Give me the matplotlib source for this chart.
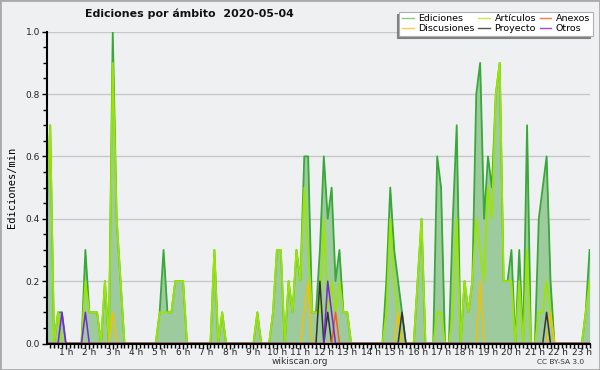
import numpy as np
import matplotlib
matplotlib.use("Agg")
import matplotlib.pyplot as plt
from matplotlib.lines import Line2D
from matplotlib.patches import Rectangle

# 10-minute bins, 6 per hour (values in edits per minute), bins 0..140
ediciones = [
    0.3, 0.4, 0.7, 0.0, 0.1, 0.1,   # 0 h
    0.0, 0.0, 0.0, 0.0, 0.0, 0.3,   # 1 h
    0.1, 0.1, 0.1, 0.0, 0.2, 0.0,   # 2 h
    1.0, 0.4, 0.2, 0.0, 0.0, 0.0,   # 3 h
    0.0, 0.0, 0.0, 0.0, 0.0, 0.0,   # 4 h
    0.1, 0.3, 0.1, 0.1, 0.2, 0.2,   # 5 h
    0.2, 0.0, 0.0, 0.0, 0.0, 0.0,   # 6 h
    0.0, 0.0, 0.3, 0.0, 0.1, 0.0,   # 7 h
    0.0, 0.0, 0.0, 0.0, 0.0, 0.0,   # 8 h
    0.0, 0.1, 0.0, 0.0, 0.0, 0.1,   # 9 h
    0.3, 0.3, 0.0, 0.2, 0.1, 0.3,   # 10 h
    0.2, 0.6, 0.6, 0.1, 0.1, 0.3,   # 11 h
    0.6, 0.4, 0.5, 0.2, 0.3, 0.1,   # 12 h
    0.1, 0.0, 0.0, 0.0, 0.0, 0.0,   # 13 h
    0.0, 0.0, 0.0, 0.0, 0.2, 0.5,   # 14 h
    0.3, 0.2, 0.1, 0.0, 0.0, 0.0,   # 15 h
    0.2, 0.4, 0.0, 0.0, 0.0, 0.6,   # 16 h
    0.5, 0.0, 0.0, 0.4, 0.7, 0.0,   # 17 h
    0.2, 0.1, 0.2, 0.8, 0.9, 0.4,   # 18 h
    0.6, 0.5, 0.8, 0.9, 0.2, 0.2,   # 19 h
    0.3, 0.0, 0.3, 0.0, 0.7, 0.0,   # 20 h
    0.0, 0.4, 0.5, 0.6, 0.2, 0.0,   # 21 h
    0.0, 0.0, 0.0, 0.0, 0.0, 0.0,   # 22 h
    0.0, 0.1, 0.3,                  # 23 h
]

articulos = [
    0.3, 0.4, 0.7, 0.0, 0.1, 0.0,
    0.0, 0.0, 0.0, 0.0, 0.0, 0.2,
    0.1, 0.1, 0.1, 0.0, 0.2, 0.0,
    0.9, 0.4, 0.2, 0.0, 0.0, 0.0,
    0.0, 0.0, 0.0, 0.0, 0.0, 0.0,
    0.1, 0.1, 0.1, 0.1, 0.2, 0.2,
    0.2, 0.0, 0.0, 0.0, 0.0, 0.0,
    0.0, 0.0, 0.3, 0.0, 0.1, 0.0,
    0.0, 0.0, 0.0, 0.0, 0.0, 0.0,
    0.0, 0.1, 0.0, 0.0, 0.0, 0.1,
    0.3, 0.3, 0.0, 0.2, 0.1, 0.3,
    0.2, 0.5, 0.3, 0.1, 0.1, 0.1,
    0.4, 0.1, 0.2, 0.1, 0.2, 0.1,
    0.1, 0.0, 0.0, 0.0, 0.0, 0.0,
    0.0, 0.0, 0.0, 0.0, 0.1, 0.4,
    0.2, 0.1, 0.0, 0.0, 0.0, 0.0,
    0.2, 0.4, 0.0, 0.0, 0.0, 0.1,
    0.1, 0.0, 0.0, 0.1, 0.4, 0.0,
    0.2, 0.1, 0.2, 0.4, 0.3, 0.2,
    0.5, 0.4, 0.8, 0.9, 0.2, 0.2,
    0.2, 0.0, 0.2, 0.0, 0.3, 0.0,
    0.0, 0.1, 0.1, 0.2, 0.1, 0.0,
    0.0, 0.0, 0.0, 0.0, 0.0, 0.0,
    0.0, 0.1, 0.2,
]

# sparse namespaces: bin index -> value
discusiones_bins = [18, 67, 68, 91, 112, 130]
discusiones_vals = [0.1, 0.1, 0.2, 0.1, 0.2, 0.1]
proyecto_bins = [71, 73, 92, 129]
proyecto_vals = [0.2, 0.1, 0.1, 0.1]
anexos_bins = [75]
anexos_vals = [0.1]
otros_bins = [5, 11, 73, 74]
otros_vals = [0.1, 0.1, 0.2, 0.1]

hour_labels = [f"{h} h" for h in range(1, 24)]

n_bins = len(ediciones)
x = np.arange(n_bins)


def sparse_series(bins, vals):
    s = np.zeros(n_bins)
    s[bins] = vals
    return s


discusiones = sparse_series(discusiones_bins, discusiones_vals)
proyecto = sparse_series(proyecto_bins, proyecto_vals)
anexos = sparse_series(anexos_bins, anexos_vals)
otros = sparse_series(otros_bins, otros_vals)

bg = "#eff0f2"
fig = plt.figure(figsize=(6, 3.7), dpi=100, facecolor=bg)
ax = fig.add_axes([47 / 600, 26.5 / 370, 543 / 600, 311.8 / 370], facecolor=bg)

# filled total + namespace lines
ax.fill_between(x, 0, ediciones, color="#9dcb9d", lw=0, zorder=2)
ax.plot(x, ediciones, color="#38a838", lw=1.3, zorder=3)
ax.plot(x, articulos, color="#9be600", lw=1.3, zorder=4)
ax.plot(x, discusiones, color="#f2c200", lw=1.1, zorder=5)
ax.plot(x, proyecto, color="#333333", lw=1.1, zorder=5)
ax.plot(x, anexos, color="#ff5a1f", lw=1.1, zorder=5)
ax.plot(x, otros, color="#7a22e0", lw=1.1, zorder=5)

ax.set_xlim(1.18, 140.1)
ax.set_ylim(0, 1.0)

# axes styling
for side in ["top", "right"]:
    ax.spines[side].set_visible(False)
for side in ["left", "bottom"]:
    ax.spines[side].set_color("black")
    ax.spines[side].set_linewidth(1.5)
    ax.spines[side].set_zorder(6)

ax.set_yticks(np.arange(0, 1.01, 0.2))
ax.set_yticks(np.arange(0, 1.01, 0.05), minor=True)
ax.set_yticklabels([f"{v:.1f}" for v in np.arange(0, 1.01, 0.2)])
ax.yaxis.grid(True, color="#c8c8c8", lw=1)
ax.set_axisbelow(True)

ax.set_xticks([6 * h for h in range(1, 24)])
ax.set_xticklabels(hour_labels)
ax.set_xticks(np.arange(2, 141), minor=True)
ax.tick_params(axis="both", which="both", direction="out", color="black",
               labelsize=6.5, labelcolor="#222222")
ax.tick_params(axis="both", which="major", length=3.5, width=1)
ax.tick_params(axis="both", which="minor", length=3, width=1)
ax.tick_params(axis="x", which="major", pad=-0.5)
ax.tick_params(axis="y", which="major", pad=1.5)

ax.set_ylabel("Ediciones/min", family="DejaVu Sans Mono", fontsize=7.5, labelpad=6)

# title and footer
fig.text(85 / 600, 1 - 14 / 370, "Ediciones por ámbito  2020-05-04",
         fontsize=7.9, weight="bold", va="center", ha="left", color="#111111")
fig.text(300 / 600, 1 - 361.5 / 370, "wikiscan.org", fontsize=6.5, ha="center",
         va="center", color="#333333")
fig.text(584 / 600, 1 - 362 / 370, "CC BY-SA 3.0", fontsize=5.3, ha="right",
         va="center", color="#333333")

# legend
handles = [
    Line2D([], [], color="#80cc80", lw=1),
    Line2D([], [], color="#ffcc44", lw=1),
    Line2D([], [], color="#c8ee44", lw=1),
    Line2D([], [], color="#555555", lw=1),
    Line2D([], [], color="#ff7744", lw=1),
    Line2D([], [], color="#9944ee", lw=1),
]
labels = ["Ediciones", "Discusiones", "Artículos", "Proyecto", "Anexos", "Otros"]
leg = fig.legend(handles, labels, ncol=3, loc="upper right",
                 bbox_to_anchor=(593 / 600, 1 - 11.5 / 370),
                 fontsize=6.8, frameon=True, fancybox=False,
                 shadow={"ox": -2, "oy": -2, "color": "#808080", "alpha": 1},
                 handlelength=1.2, handletextpad=0.5, columnspacing=0.4,
                 labelspacing=0.05, borderpad=0.3, borderaxespad=0)
leg.get_frame().set_edgecolor("#b0b0b0")
leg.get_frame().set_linewidth(0.8)

# outer border
fig.patches.append(Rectangle((0, 0), 1, 1, transform=fig.transFigure,
                             fill=False, edgecolor="#aaaaaa", lw=2))

fig.savefig("out.png", dpi=100, facecolor=bg)
